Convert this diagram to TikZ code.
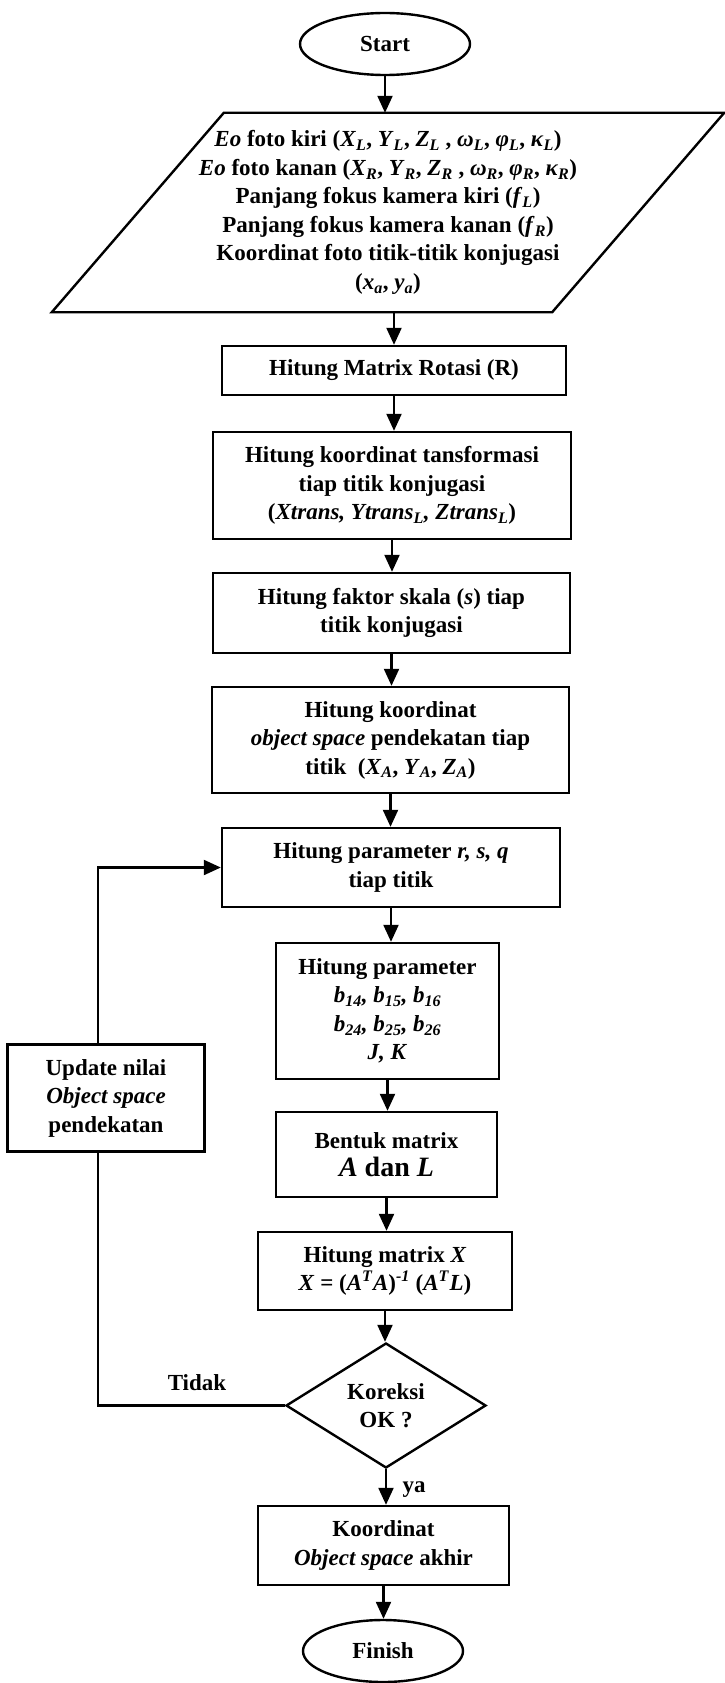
\documentclass[tikz,border=0pt]{standalone}
\usepackage{fontspec}
\setmainfont{Liberation Serif}
\usepackage{tikz}
\usetikzlibrary{shapes.geometric,arrows.meta}
\newcommand{\isub}[2]{\textit{#1}\textsubscript{\textit{#2}}}

\begin{document}
\begin{tikzpicture}[x=1pt,y=-1pt,
  every node/.style={font=\fontsize{23}{28.5}\selectfont\bfseries},
  box/.style={draw,line width=2.4pt,align=center,inner sep=0pt},
  term/.style={draw,ellipse,line width=2.4pt,inner sep=0pt,minimum width=170pt,minimum height=62pt},
  flow/.style={line width=2.2pt,-{Triangle[length=17pt,width=15pt]}},
  plain/.style={line width=2.2pt}]
\useasboundingbox (0,0) rectangle (724,1683);
\node[term] (start) at (385,44) {Start};
\node[align=center,inner sep=0pt,minimum width=500pt,minimum height=199pt] (input) at (388,212.5) {\textit{Eo} foto kiri (\isub{X}{L}, \isub{Y}{L}, \isub{Z}{L} , \isub{ω}{L}, \isub{φ}{L}, \isub{κ}{L})\\
\textit{Eo} foto kanan (\isub{X}{R}, \isub{Y}{R}, \isub{Z}{R} , \isub{ω}{R}, \isub{φ}{R}, \isub{κ}{R})\\
Panjang fokus kamera kiri (\isub{f}{L})\\
Panjang fokus kamera kanan (\isub{f}{R})\\
Koordinat foto titik-titik konjugasi\\
(\isub{x}{a}, \isub{y}{a})};
\draw[line width=2.4pt] ([xshift=-86pt]input.south west) -- ([xshift=-86pt]input.south east) -- ([xshift=86pt]input.north east) -- ([xshift=86pt]input.north west) -- cycle;
\node[box,minimum width=344pt,minimum height=49pt] (rot) at (394,370.5) {Hitung Matrix Rotasi (R)};
\node[box,minimum width=358pt,minimum height=107pt] (trans) at (392,485.5) {Hitung koordinat tansformasi\\tiap titik konjugasi\\(\textit{Xtrans, }\isub{Ytrans}{L}\textit{, }\isub{Ztrans}{L})};
\node[box,minimum width=357pt,minimum height=80pt] (scale) at (391.5,613) {Hitung faktor skala (\textit{s}) tiap\\titik konjugasi};
\node[box,minimum width=357pt,minimum height=106pt] (approx) at (390.5,740) {Hitung koordinat\\\textit{object space} pendekatan tiap\\titik\ \ (\isub{X}{A}, \isub{Y}{A}, \isub{Z}{A})};
\node[box,minimum width=338pt,minimum height=79pt] (rsq) at (391,867.5) {Hitung parameter \textit{r, s, q}\\tiap titik};
\node[box,minimum width=223pt,minimum height=136pt] (coef) at (387.5,1011) {Hitung parameter\\\isub{b}{14}\textit{,} \isub{b}{15}\textit{,} \isub{b}{16}\\\isub{b}{24}\textit{,} \isub{b}{25}\textit{,} \isub{b}{26}\\\textit{J, K}};
\node[box,minimum width=197pt,minimum height=107pt] (update) at (106,1098) {Update nilai\\\textit{Object space}\\pendekatan};
\node[box,minimum width=221pt,minimum height=85pt] (mat) at (386.5,1154.5) {Bentuk matrix\\{\fontsize{28}{32}\selectfont\textit{A} dan \textit{L}}};
\node[box,minimum width=254pt,minimum height=78pt] (solve) at (385,1271) {Hitung matrix \textit{X}\\\textit{X} = (\textit{A}\textsuperscript{\textit{T}}\textit{A})\textsuperscript{\textit{-1}} (\textit{A}\textsuperscript{\textit{T}}\textit{L})};
\node[draw,diamond,line width=2.4pt,inner sep=0pt,minimum width=200pt,minimum height=125pt,align=center] (check) at (386,1405.5) {Koreksi\\OK ?};
\node[box,minimum width=251pt,minimum height=79pt] (final) at (383.5,1545.5) {Koordinat\\\textit{Object space} akhir};
\node[term,minimum width=160pt] (finish) at (383,1651) {Finish};
\node (tidak) at (197,1383) {Tidak};
\node (ya) at (414,1490) {ya};
\draw[flow] (start.south) -- (start.south |- input.north);
\draw[flow] (rot.north |- input.south) -- (rot.north);
\draw[flow] (rot.south) -- (rot.south |- trans.north);
\draw[flow] (trans.south) -- (trans.south |- scale.north);
\draw[flow] (scale.south) -- (scale.south |- approx.north);
\draw[flow] (approx.south) -- (approx.south |- rsq.north);
\draw[flow] (rsq.south) -- (rsq.south |- coef.north);
\draw[flow] (coef.south) -- (coef.south |- mat.north);
\draw[flow] (mat.south) -- (mat.south |- solve.north);
\draw[flow] (solve.south) -- (solve.south |- check.north);
\draw[flow] (check.south) -- (check.south |- final.north);
\draw[flow] (final.south) -- (final.south |- finish.north);
\draw[plain] (check.west) -| ([xshift=-8pt]update.south);
\draw[flow] ([xshift=-8pt]update.north) |- (rsq.west);
\end{tikzpicture}
\end{document}
